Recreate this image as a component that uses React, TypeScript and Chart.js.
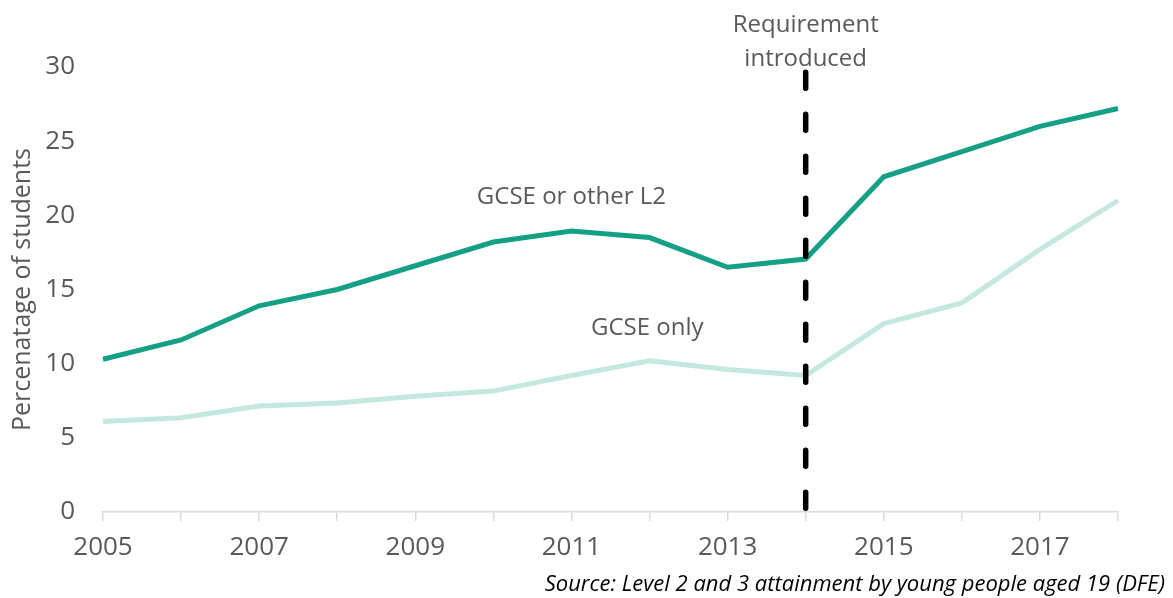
import React, { useEffect, useRef } from "react";
import { Chart, registerables } from "chart.js";

Chart.register(...registerables);

const years = ["2005", "2006", "2007", "2008", "2009", "2010", "2011", "2012", "2013", "2014", "2015", "2016", "2017", "2018"];
const gcseOrOtherL2 = [10.3, 11.6, 13.9, 15.0, 16.6, 18.2, 18.95, 18.5, 16.5, 17.05, 22.6, 24.3, 26.0, 27.2];
const gcseOnly = [6.1, 6.35, 7.15, 7.35, 7.8, 8.15, 9.2, 10.2, 9.6, 9.2, 12.7, 14.1, 17.7, 21.0];
const yTicks = [0, 5, 10, 15, 20, 25, 30];
const requirementYear = "2014";
const sourceText = "Source: Level 2 and 3 attainment by young people aged 19 (DFE)";
const yTitle = "Percenatage of students";

const DARK = "#15A085";
const LIGHT = "#C4E8E0";
const TEXT = "#595959";
const FONT = "'Open Sans', sans-serif";

const annotationPlugin = {
  id: "annotations",
  afterDatasetsDraw(chart: any) {
    const { ctx, scales } = chart;
    const xs = scales.x;
    const ys = scales.y;
    const xi = years.indexOf(requirementYear);
    const x = xs.getPixelForValue(xi);
    ctx.save();
    ctx.strokeStyle = "#000";
    ctx.lineWidth = 5.5;
    ctx.lineCap = "round";
    ctx.setLineDash([16, 26]);
    ctx.beginPath();
    ctx.moveTo(x, ys.getPixelForValue(29.65));
    ctx.lineTo(x, ys.getPixelForValue(0));
    ctx.stroke();
    ctx.setLineDash([]);

    ctx.fillStyle = TEXT;
    ctx.font = `24px ${FONT}`;
    ctx.textAlign = "center";
    ctx.textBaseline = "middle";
    ctx.fillText("Requirement", x, ys.getPixelForValue(32.85));
    ctx.fillText("introduced", x, ys.getPixelForValue(30.55));
    ctx.fillText("GCSE or other L2", xs.getPixelForValue(6), ys.getPixelForValue(21.25));
    ctx.fillText("GCSE only", xs.getPixelForValue(6.97), ys.getPixelForValue(12.4));

    ctx.fillStyle = "#000";
    ctx.font = `italic 22px ${FONT}`;
    ctx.textAlign = "right";
    ctx.fillText(sourceText, chart.width - 8, 585);
    ctx.restore();
  },
};

export default function App() {
  const ref = useRef<HTMLCanvasElement>(null);
  useEffect(() => {
    if (!ref.current) return;
    const chart = new Chart(ref.current, {
      type: "line",
      data: {
        labels: years,
        datasets: [
          {
            label: "GCSE only",
            data: gcseOnly,
            borderColor: LIGHT,
            borderWidth: 5,
            pointRadius: 0,
            tension: 0,
          },
          {
            label: "GCSE or other L2",
            data: gcseOrOtherL2,
            borderColor: DARK,
            borderWidth: 5,
            pointRadius: 0,
            tension: 0,
          },
        ],
      },
      options: {
        animation: false,
        responsive: false,
        layout: { padding: { left: 0, right: 55, top: 67, bottom: 0 } },
        plugins: {
          legend: { display: false },
          tooltip: { enabled: false },
        },
        scales: {
          x: {
            offset: false,
            grid: {
              display: true,
              drawOnChartArea: false,
              drawTicks: true,
              tickLength: 9,
              color: "#D9D9D9",
              lineWidth: 1.5,
            },
            border: { display: true, color: "#D9D9D9", width: 1.5 },
            ticks: {
              autoSkip: false,
              maxRotation: 0,
              color: TEXT,
              font: { family: FONT, size: 26 },
              padding: 11,
              callback: (_v: any, i: number) => (i % 2 === 0 ? years[i] : ""),
            },
            afterFit: (s: any) => {
              s.height = 86;
            },
          },
          y: {
            min: 0,
            max: 30,
            afterBuildTicks: (s: any) => {
              s.ticks = yTicks.map((v) => ({ value: v }));
            },
            grid: { display: false },
            border: { display: false },
            ticks: {
              color: TEXT,
              font: { family: FONT, size: 26 },
              padding: 20,
            },
            title: {
              display: true,
              text: yTitle,
              color: TEXT,
              font: { family: FONT, size: 25 },
              padding: { top: 8, bottom: 0 },
            },
            afterFit: (s: any) => {
              s.width = 103;
            },
          },
        },
      },
      plugins: [annotationPlugin],
    });
    return () => chart.destroy();
  }, []);
  return (
    <div style={{ position: "fixed", left: 0, top: 0, width: 1173, height: 598, background: "#fff" }}>
      <canvas ref={ref} width={1173} height={598} style={{ width: 1173, height: 598 }} />
    </div>
  );
}
